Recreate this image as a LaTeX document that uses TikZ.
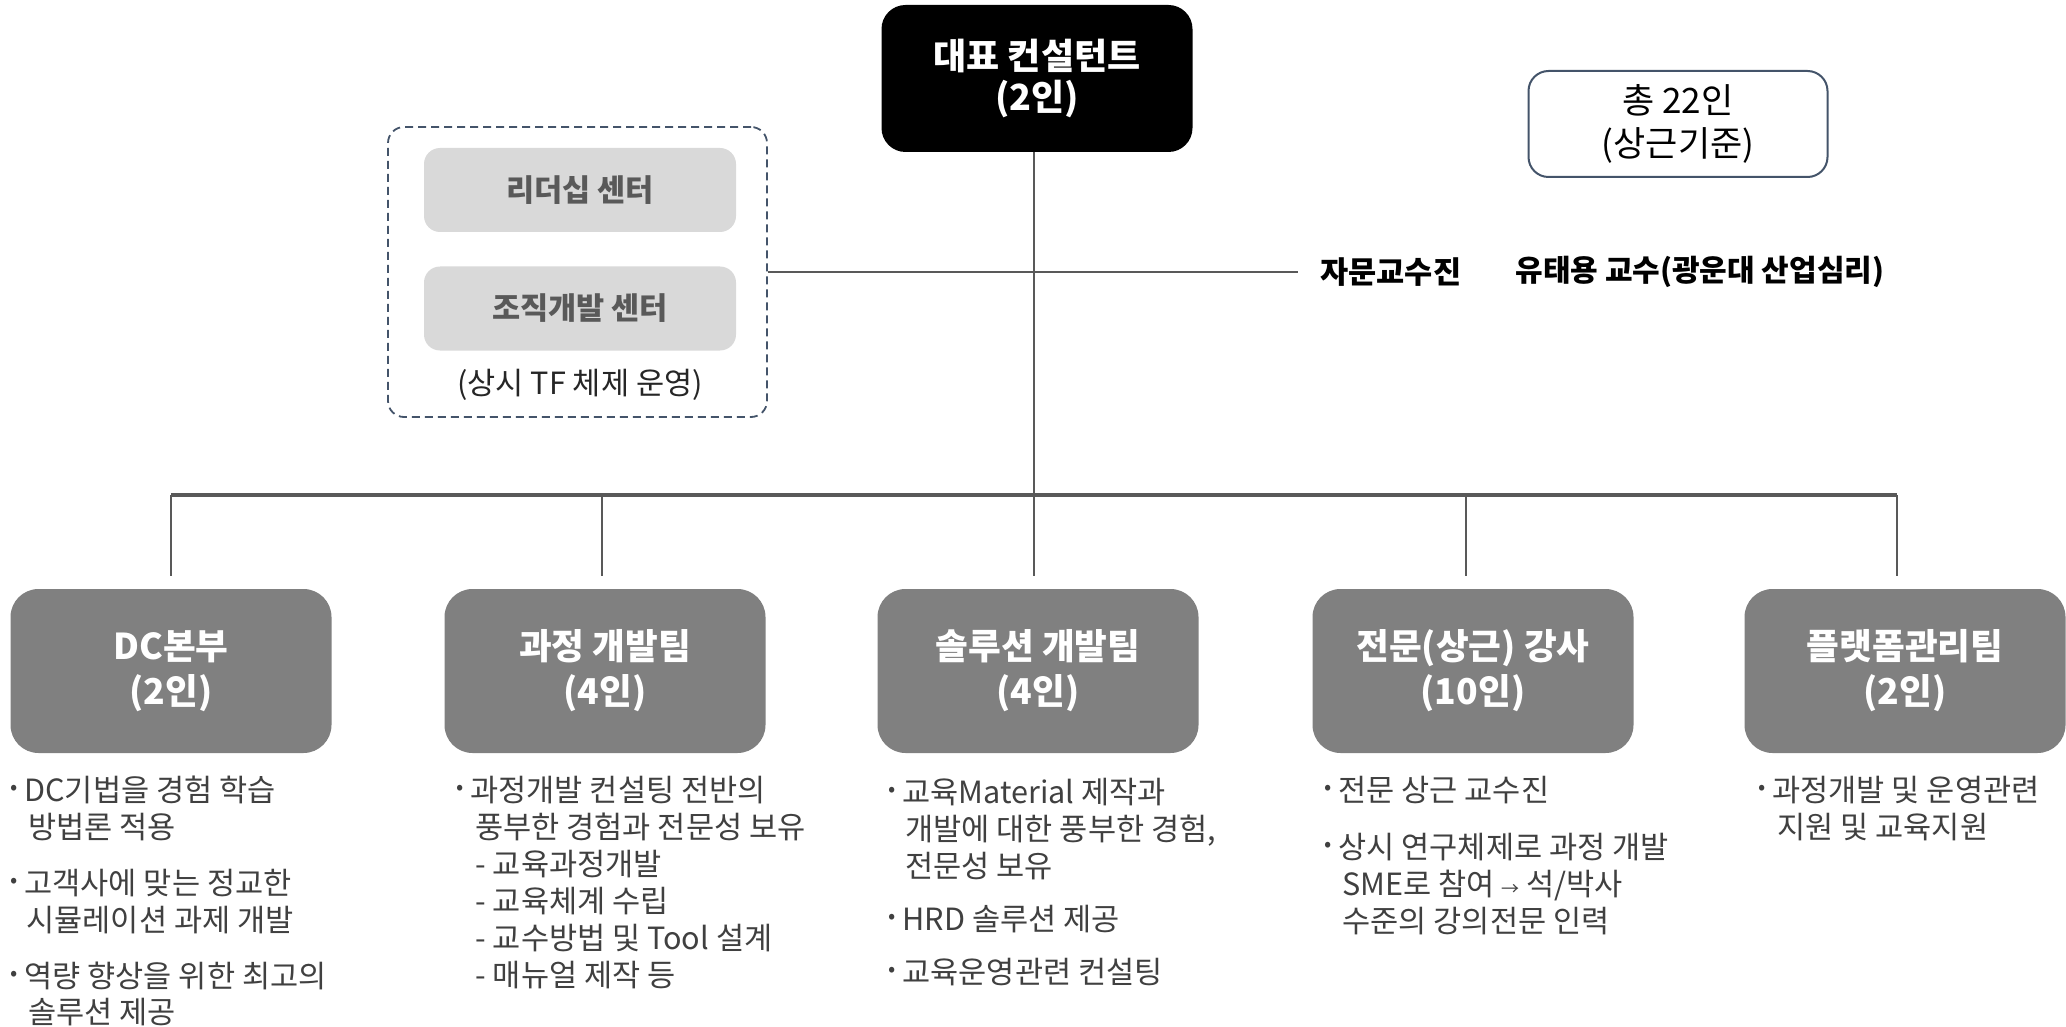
\documentclass[tikz,border=0pt]{standalone}
\usepackage{fontspec}
\usepackage{graphicx}
\setmainfont{Noto Sans CJK KR}
\definecolor{lnc}{HTML}{595959}
\definecolor{teamgray}{HTML}{808080}
\definecolor{slate}{HTML}{44546A}
\definecolor{centerfill}{HTML}{D9D9D9}
\definecolor{centertext}{HTML}{595959}
\definecolor{desctext}{HTML}{404040}
\newcommand\blt{\makebox[0pt][r]{\raisebox{0.25em}{\scalebox{0.7}{•}}\hspace{3.5pt}}}
\begin{document}
\begin{tikzpicture}[x=0.5pt,y=-0.5pt,
  ceobox/.style={rectangle, rounded corners=12pt, fill=black, text=white,
    minimum width=155.5pt, minimum height=73.5pt, inner sep=0pt, align=center,
    font=\fontsize{18pt}{20.5pt}\selectfont\bfseries},
  teambox/.style={rectangle, rounded corners=14pt, fill=teamgray, text=white,
    minimum width=160.5pt, minimum height=82pt, inner sep=0pt, align=center,
    font=\fontsize{17.8pt}{22.5pt}\selectfont\bfseries},
  totalbox/.style={rectangle, rounded corners=10pt, draw=slate, line width=1pt,
    minimum width=149.5pt, minimum height=53pt, inner sep=0pt, align=center,
    text=black, font=\fontsize{17.5pt}{21.5pt}\selectfont},
  tfbox/.style={rectangle, rounded corners=8pt, draw=slate, line width=0.9pt,
    dash pattern=on 4pt off 2.5pt, minimum width=189.5pt, minimum height=145pt, inner sep=0pt},
  centerbox/.style={rectangle, rounded corners=8pt, fill=centerfill, text=centertext,
    minimum width=156pt, minimum height=42pt, inner sep=0pt,
    font=\fontsize{15.3pt}{17pt}\selectfont\bfseries},
  desc/.style={anchor=north west, inner sep=0pt, align=left, text=desctext,
    font=\fontsize{15.3pt}{18.5pt}\selectfont},
  link/.style={draw=lnc, line width=1pt},
  busline/.style={draw=lnc, line width=1.6pt}]
\useasboundingbox (0,0) rectangle (2066,1027);

% top
\node[ceobox] (ceo) at (1037,78.5) {대표 컨설턴트\\(2인)};
\node[totalbox] (total) at (1678,124) {총 22인\\(상근기준)};

% TF group
\node[tfbox] (tf) at (577.5,272) {};
\node[centerbox] (lead) at (580,190) {리더십 센터};
\node[centerbox] (org) at (580,308.5) {조직개발 센터};
\node[inner sep=0pt, text=black!85, font=\fontsize{15.3pt}{17pt}\selectfont] (tfnote) at (580,385) {(상시 TF 체제 운영)};

% advisors
\node[anchor=west, inner xsep=11pt, inner ysep=0pt, text=black, font=\fontsize{15.3pt}{17pt}\selectfont\bfseries] (adv) at (1298,272) {자문교수진};
\node[anchor=west, inner sep=0pt, text=black, font=\fontsize{15pt}{17pt}\selectfont\bfseries] (prof) at (1515,272) {유태용 교수(광운대 산업심리)};

% bus coordinates
\coordinate (b1) at (171,495);
\coordinate (b2) at (602,495);
\coordinate (b3) at (1034,495);
\coordinate (b4) at (1466,495);
\coordinate (b5) at (1897,495);

% teams
\node[teambox] (dc) at (171,671) {DC본부\\(2인)};
\node[teambox] (course) at (605,671) {과정 개발팀\\(4인)};
\node[teambox] (sol) at (1038,671) {솔루션 개발팀\\(4인)};
\node[teambox] (inst) at (1473,671) {전문(상근) 강사\\(10인)};
\node[teambox] (plat) at (1905,671) {플랫폼관리팀\\(2인)};

% connectors
\draw[link] (ceo.south -| b3) -- (b3);
\draw[link] (tf.east) -- (adv.west);
\draw[busline] (b1) -- (b5);
\draw[link, shorten >=6.5pt] (b1) -- (b1 |- dc.north);
\draw[link, shorten >=6.5pt] (b2) -- (b2 |- course.north);
\draw[link, shorten >=6.5pt] (b3) -- (b3 |- sol.north);
\draw[link, shorten >=6.5pt] (b4) -- (b4 |- inst.north);
\draw[link, shorten >=6.5pt] (b5) -- (b5 |- plat.north);

% descriptions
\node[desc] (dcd) at (24,776) {\blt DC기법을 경험 학습\\
\hspace*{2pt}방법론 적용\\[9.5pt]
\blt 고객사에 맞는 정교한\\
\hspace*{1pt}시뮬레이션 과제 개발\\[9.5pt]
\blt 역량 향상을 위한 최고의\\[-0.5pt]
\hspace*{2pt}솔루션 제공};

\node[desc] (coursed) at (470,776) {\blt 과정개발 컨설팅 전반의\\
\hspace*{2.5pt}풍부한 경험과 전문성 보유\\
\hspace*{2.5pt}- 교육과정개발\\
\hspace*{2.5pt}- 교육체계 수립\\
\hspace*{2.5pt}- 교수방법 및 Tool 설계\\
\hspace*{2.5pt}- 매뉴얼 제작 등};

\node[desc] (sold) at (902,778) {\blt 교육Material 제작과\\
\hspace*{1.5pt}개발에 대한 풍부한 경험,\\
\hspace*{1.5pt}전문성 보유\\[8pt]
\blt HRD 솔루션 제공\\[8pt]
\blt 교육운영관련 컨설팅};

\node[desc] (instd) at (1338,776) {\blt 전문 상근 교수진\\[10pt]
\blt 상시 연구체제로 과정 개발\\
\hspace*{2pt}SME로 참여 {\fontsize{9pt}{9pt}\selectfont →} 석/박사\\
\hspace*{2pt}수준의 강의전문 인력};

\node[desc] (platd) at (1772,776) {\blt 과정개발 및 운영관련\\
\hspace*{2.5pt}지원 및 교육지원};
\end{tikzpicture}
\end{document}
